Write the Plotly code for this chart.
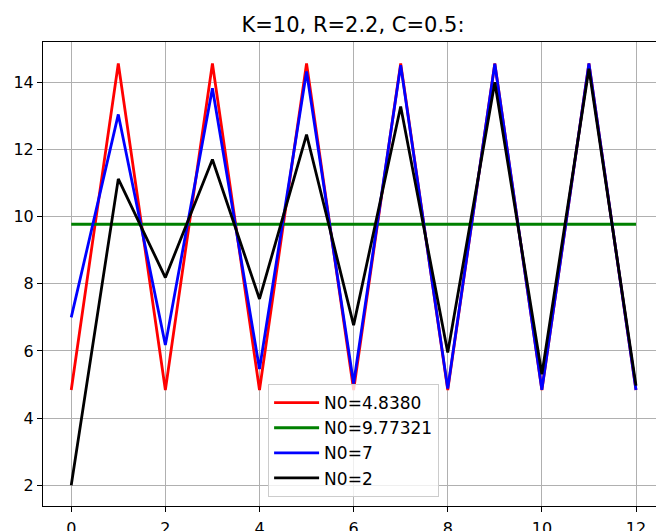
import plotly.graph_objects as go

t = list(range(13))
n_red = [4.8380, 14.5617, 4.8379, 14.5617, 4.8380, 14.5617, 4.8380, 14.5617, 4.8380, 14.5617, 4.8380, 14.5617, 4.8380]
n_green = [9.77321] * 13
n_blue = [7.0, 13.0435, 6.1774, 13.8236, 5.4609, 14.3235, 5.0328, 14.5105, 4.8790, 14.5527, 4.8452, 14.5601, 4.8390]
n_black = [2.0, 11.1249, 8.1858, 11.7011, 7.5484, 12.4446, 6.7682, 13.2805, 5.9530, 14.0013, 5.3058, 14.4026, 4.9674]

names = ["N0=4.8380", "N0=9.77321", "N0=7", "N0=2"]
colors = ["#ff0000", "#008000", "#0000ff", "#000000"]
series = [n_red, n_green, n_blue, n_black]

title_text = "K=10, R=2.2, C=0.5:"
x_ticks = [0, 2, 4, 6, 8, 10, 12]
y_ticks = [2, 4, 6, 8, 10, 12, 14]

FONT = "DejaVu Sans"

fig = go.Figure()
for i, (name, col, ys) in enumerate(zip(names, colors, series)):
    fig.add_trace(go.Scatter(x=t, y=ys, mode="lines", name=name, legendgroup=f"g{i}",
                             line=dict(color=col, width=2.8)))

fig.update_layout(
    width=656, height=531,
    margin=dict(l=43, r=0, t=42, b=25, autoexpand=False),
    paper_bgcolor="white", plot_bgcolor="white",
    font=dict(family=FONT, size=16, color="#000000"),
    title=dict(text=title_text, x=353/656, xref="container", xanchor="center",
               y=1 - 25/531, yref="container", yanchor="middle",
               font=dict(family=FONT, size=21, color="#000000")),
    showlegend=True,
    legend=dict(x=(268-43)/613, y=(506-497)/464, xanchor="left", yanchor="bottom",
                bgcolor="rgba(255,255,255,0.8)", bordercolor="#cccccc", borderwidth=1.1,
                font=dict(family=FONT, size=17, color="#000000"),
                tracegroupgap=0, itemwidth=45),
)
fig.update_xaxes(range=[-0.6, 12.425], tickvals=x_ticks, ticktext=[str(v) for v in x_ticks],
                 showgrid=True, gridcolor="#b0b0b0", gridwidth=1.1,
                 showline=True, linecolor="black", linewidth=1.1, mirror=True,
                 ticks="outside", ticklen=5, tickwidth=1.1, tickcolor="black",
                 ticklabelstandoff=3,
                 zeroline=False, automargin=False)
fig.update_yaxes(range=[1.383, 15.2], tickvals=y_ticks, ticktext=[str(v) for v in y_ticks],
                 showgrid=True, gridcolor="#b0b0b0", gridwidth=1.1,
                 showline=True, linecolor="black", linewidth=1.1, mirror=False,
                 ticks="outside", ticklen=5, tickwidth=1.1, tickcolor="black",
                 zeroline=False, automargin=False)

fig.write_html("out.html")
